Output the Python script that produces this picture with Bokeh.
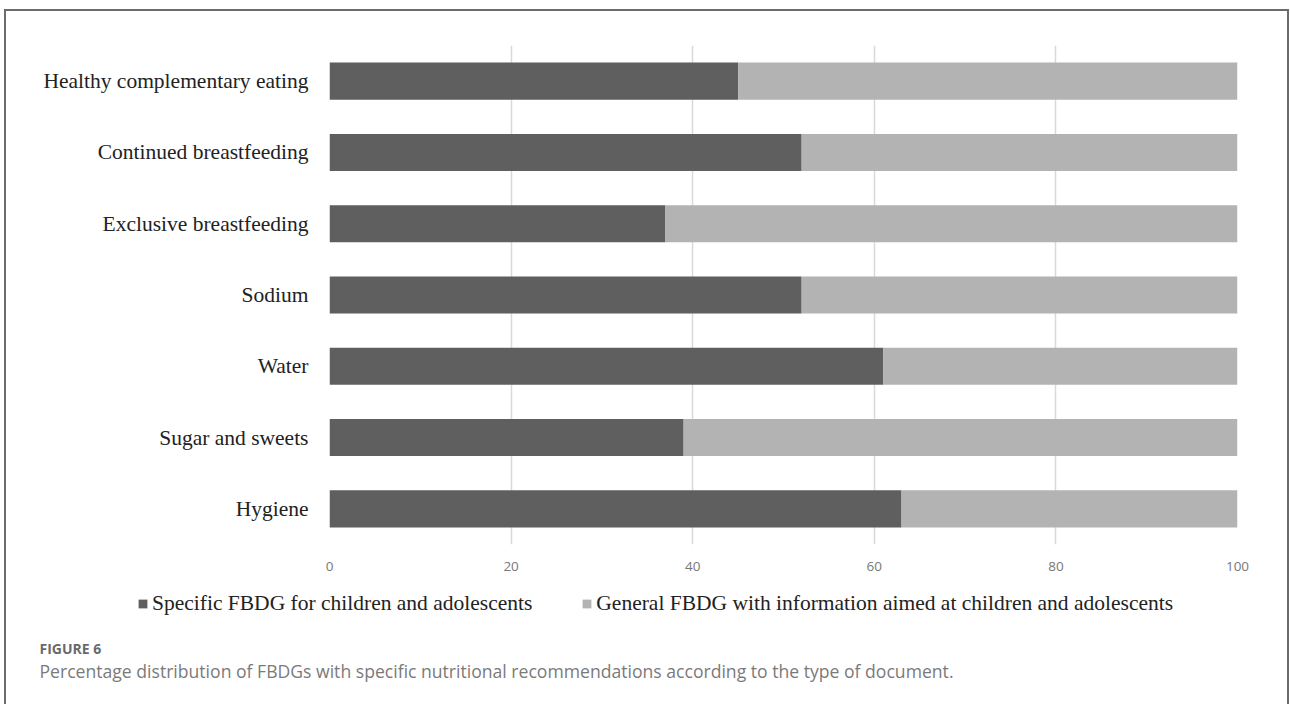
from bokeh.plotting import figure
from bokeh.layouts import column
from bokeh.models import Legend, LegendItem, Label, FixedTicker, Range1d
from bokeh.embed import file_html
from bokeh.resources import INLINE

categories = ["Hygiene", "Sugar and sweets", "Water", "Sodium",
              "Exclusive breastfeeding", "Continued breastfeeding",
              "Healthy complementary eating"]
specific = [63, 39, 61, 52, 37, 52, 45]
general = [37, 61, 39, 48, 63, 48, 55]
series_names = ["Specific FBDG for children and adolescents",
                "General FBDG with information aimed at children and adolescents"]
series_colors = ["#5f5f5f", "#b3b3b3"]
x_ticks = [0, 20, 40, 60, 80, 100]
caption_label = "FIGURE 6"
caption_text = ("Percentage distribution of FBDGs with specific nutritional "
                "recommendations according to the type of document.")

W = 1290
H1, H2 = 590, 114

# ---- main chart ----
p = figure(width=W, height=H1, y_range=categories, x_range=(0, 100),
           output_backend="svg", toolbar_location=None,
           min_border_left=329, min_border_right=53,
           min_border_top=45, min_border_bottom=H1 - 544)
p.outline_line_color = None
p.border_fill_alpha = 0

data = dict(cat=categories, specific=specific, general=general)
p.hbar_stack(["specific", "general"], y="cat", height=0.52,
             color=series_colors, line_color=None, source=data)

p.xaxis.ticker = FixedTicker(ticks=x_ticks)
p.xaxis.axis_line_color = None
p.xaxis.major_tick_line_color = None
p.xaxis.minor_tick_line_color = None
p.xaxis.major_label_text_font = "Open Sans"
p.xaxis.major_label_text_font_size = "13.5px"
p.xaxis.major_label_text_color = "#777777"
p.xaxis.major_label_standoff = 11

p.yaxis.axis_line_color = None
p.yaxis.major_tick_line_color = None
p.yaxis.minor_tick_line_color = None
p.yaxis.major_label_text_font = "Liberation Serif"
p.yaxis.major_label_text_font_size = "21.5px"
p.yaxis.major_label_text_color = "#222222"
p.yaxis.major_label_standoff = 15

p.ygrid.grid_line_color = None
p.xgrid.grid_line_color = "#d9d9d9"
p.xgrid.grid_line_width = 1.5

# ---- legend + caption strip ----
q = figure(width=W, height=H2, x_range=Range1d(0, 1), y_range=Range1d(0, 1),
           output_backend="svg", toolbar_location=None,
           x_axis_location=None, y_axis_location=None, min_border=0)
q.frame_align = False
q.outline_line_color = None
q.border_fill_alpha = 0
q.background_fill_alpha = 0
q.grid.visible = False

# legend-only swatch renderers (their single row lies outside q's visible range)
legend_renderers = [q.hbar(y=[-10], left=[0], right=[1], height=0.5,
                           color=c, line_color=None) for c in series_colors]
legend = Legend(items=[LegendItem(label=n, renderers=[r])
                       for n, r in zip(series_names, legend_renderers)],
                orientation="horizontal", location=(137, H2 - 27),
                label_text_font="Liberation Serif", label_text_font_size="21.5px",
                label_text_color="#222222", glyph_width=11, glyph_height=11,
                label_standoff=4, spacing=49, padding=0, margin=0,
                label_height=28, border_line_alpha=0, background_fill_alpha=0)
q.add_layout(legend, "center")

q.add_layout(Label(x=39, y=H2 - 58, x_units="screen", y_units="screen",
                   text=caption_label, text_font="Open Sans",
                   text_font_size="14px", text_font_style="bold",
                   text_color="#6a6a6a", text_baseline="middle"))
q.add_layout(Label(x=39, y=H2 - 80, x_units="screen", y_units="screen",
                   text=caption_text, text_font="Open Sans",
                   text_font_size="17.6px", text_color="#7a7a7a",
                   text_baseline="middle"))

layout = column(p, q, spacing=0)
layout.styles = {
    "background": ("linear-gradient(#6b6b6b,#6b6b6b) 4px 9px / 1285px 2px no-repeat, "
                   "linear-gradient(#6b6b6b,#6b6b6b) 4px 9px / 2px 700px no-repeat, "
                   "linear-gradient(#6b6b6b,#6b6b6b) 1287px 9px / 2px 700px no-repeat, "
                   "#ffffff"),
}

open("out.html", "w").write(file_html(layout, INLINE))
